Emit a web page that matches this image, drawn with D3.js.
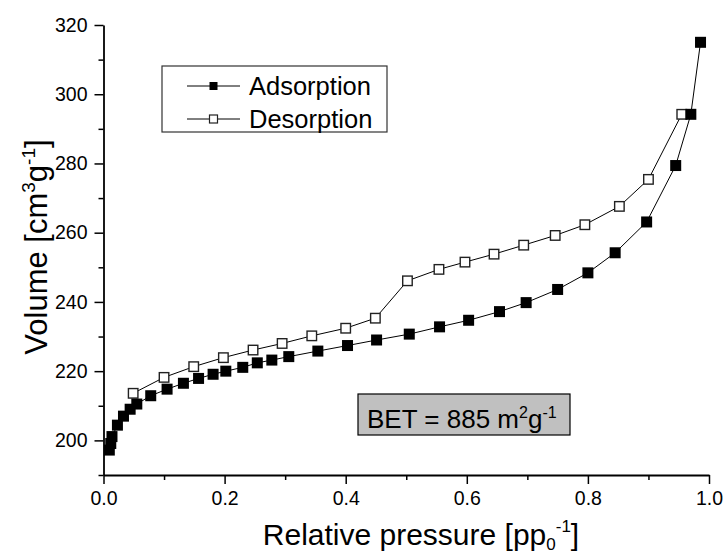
<!DOCTYPE html>
<html>
<head>
<meta charset="utf-8">
<script src="https://cdn.jsdelivr.net/npm/d3@7"></script>
<style>
  body { margin: 0; background: #fff; }
  svg text { font-family: "Liberation Sans", Arial, Helvetica, sans-serif; fill: #000; }
</style>
</head>
<body>
<svg id="chart" width="725" height="558"></svg>
<script>
// Nitrogen isotherm: relative pressure p/p0 vs adsorbed volume (cm3/g)
const adsorptionP = [0.0096, 0.012, 0.014, 0.023, 0.033, 0.044, 0.055, 0.078, 0.105, 0.132,
  0.157, 0.181, 0.202, 0.230, 0.254, 0.278, 0.306, 0.354, 0.403, 0.451, 0.505, 0.555,
  0.603, 0.654, 0.698, 0.750, 0.800, 0.845, 0.897, 0.945, 0.970, 0.986];
const adsorptionV = [197.2, 199.1, 201.1, 204.4, 207.0, 209.0, 210.5, 212.9, 214.8, 216.5,
  217.9, 219.1, 220.0, 221.1, 222.4, 223.2, 224.2, 225.8, 227.4, 229.0, 230.7, 232.8,
  234.7, 237.2, 239.8, 243.6, 248.4, 254.2, 263.1, 279.4, 294.2, 315.0];

const desorptionP = [0.049, 0.100, 0.149, 0.198, 0.247, 0.295, 0.344, 0.400, 0.449, 0.502,
  0.554, 0.597, 0.645, 0.694, 0.746, 0.795, 0.852, 0.900, 0.955];
const desorptionV = [213.6, 218.2, 221.3, 223.9, 226.1, 228.0, 230.2, 232.4, 235.3, 246.1,
  249.4, 251.5, 253.8, 256.4, 259.2, 262.3, 267.6, 275.4, 294.2];

const xTicks = [0, 0.2, 0.4, 0.6, 0.8, 1.0];
const xMinorTicks = [0.1, 0.3, 0.5, 0.7, 0.9];
const yTicks = [200, 220, 240, 260, 280, 300, 320];
const yMinorTicks = [190, 210, 230, 250, 270, 290, 310];

const seriesNames = ["Adsorption", "Desorption"];
const betValue = 885;

const svg = d3.select("#chart");
const x = d3.scaleLinear().domain([0, 1]).range([103.5, 709]);
const y = d3.scaleLinear().domain([190, 320]).range([475, 25]);

const axisColor = "#000";

// minor ticks first (no labels)
svg.append("g").attr("transform", `translate(0,${y(190)})`)
  .call(d3.axisBottom(x).tickValues(xMinorTicks).tickSize(5).tickSizeOuter(0).tickFormat(""))
  .call(g => g.select(".domain").remove());
svg.append("g").attr("transform", `translate(${x(0)},0)`)
  .call(d3.axisLeft(y).tickValues(yMinorTicks).tickSize(5).tickSizeOuter(0).tickFormat(""))
  .call(g => g.select(".domain").remove());

const xAxis = svg.append("g").attr("transform", `translate(0,${y(190)})`)
  .call(d3.axisBottom(x).tickValues(xTicks).tickSize(9).tickSizeOuter(0).tickPadding(7)
    .tickFormat(d3.format(".1f")));
const yAxis = svg.append("g").attr("transform", `translate(${x(0)},0)`)
  .call(d3.axisLeft(y).tickValues(yTicks).tickSize(9).tickSizeOuter(0).tickPadding(7)
    .tickFormat(d3.format("d")));

svg.selectAll(".tick line").attr("stroke", axisColor).attr("stroke-width", 1.5);
svg.selectAll(".domain").attr("stroke", axisColor).attr("stroke-width", 1.8);
[xAxis, yAxis].forEach(a => a.selectAll(".tick text")
  .style("font-family", '"Liberation Sans", Arial, sans-serif')
  .style("font-size", "19.5px").attr("fill", "#000"));

// axis titles
const xTitle = svg.append("text")
  .attr("x", 421).attr("y", 545)
  .attr("text-anchor", "middle").style("font-size", "30px");
xTitle.append("tspan").text("Relative pressure [pp");
xTitle.append("tspan").attr("dy", 5).style("font-size", "17px").text("0");
xTitle.append("tspan").attr("dy", -18).style("font-size", "17px").text("-1");
xTitle.append("tspan").attr("dy", 13).text("]");

const yTitle = svg.append("text")
  .attr("transform", `translate(47,247) rotate(-90)`)
  .attr("text-anchor", "middle").style("font-size", "31px");
yTitle.append("tspan").text("Volume [cm");
yTitle.append("tspan").attr("dy", -12).style("font-size", "19px").text("3");
yTitle.append("tspan").attr("dy", 12).text("g");
yTitle.append("tspan").attr("dy", -12).style("font-size", "19px").text("-1");
yTitle.append("tspan").attr("dy", 12).text("]");

const adsorption = adsorptionP.map((p, i) => ({ p, v: adsorptionV[i] }));
const desorption = desorptionP.map((p, i) => ({ p, v: desorptionV[i] }));

const line = d3.line().x(d => x(d.p)).y(d => y(d.v));

const plot = svg.append("g");
plot.append("path").datum(desorption).attr("d", line)
  .attr("fill", "none").attr("stroke", "#000").attr("stroke-width", 1);
plot.append("path").datum(adsorption).attr("d", line)
  .attr("fill", "none").attr("stroke", "#000").attr("stroke-width", 1);

const openSize = 9.5, filledSize = 11;
plot.selectAll("rect.des").data(desorption).enter().append("rect")
  .attr("class", "des")
  .attr("x", d => x(d.p) - openSize / 2).attr("y", d => y(d.v) - openSize / 2)
  .attr("width", openSize).attr("height", openSize)
  .attr("fill", "#fff").attr("stroke", "#222").attr("stroke-width", 1.4);
plot.selectAll("rect.ads").data(adsorption).enter().append("rect")
  .attr("class", "ads")
  .attr("x", d => x(d.p) - filledSize / 2).attr("y", d => y(d.v) - filledSize / 2)
  .attr("width", filledSize).attr("height", filledSize)
  .attr("fill", "#000");

// legend
const legend = svg.append("g");
legend.append("rect").attr("x", 162).attr("y", 66).attr("width", 225).attr("height", 66)
  .attr("fill", "#fff").attr("stroke", "#333").attr("stroke-width", 1.2);
const rows = [{ name: seriesNames[0], cy: 86, filled: true }, { name: seriesNames[1], cy: 119, filled: false }];
rows.forEach(r => {
  legend.append("line").attr("x1", 187).attr("x2", 240).attr("y1", r.cy).attr("y2", r.cy)
    .attr("stroke", "#000").attr("stroke-width", 1);
  legend.append("rect").attr("x", 213.5 - 4).attr("y", r.cy - 4).attr("width", 8).attr("height", 8)
    .attr("fill", r.filled ? "#000" : "#fff").attr("stroke", r.filled ? "none" : "#222").attr("stroke-width", 1.2);
  legend.append("text").attr("x", 249).attr("y", r.cy + 9).style("font-size", "25.5px").text(r.name);
});

// BET annotation
const bet = svg.append("g");
bet.append("rect").attr("x", 358).attr("y", 394).attr("width", 212).attr("height", 41)
  .attr("fill", "#c0c0c0").attr("stroke", "#000").attr("stroke-width", 1.2);
const betText = bet.append("text").attr("x", 367).attr("y", 428).style("font-size", "26px");
betText.append("tspan").text(`BET = ${betValue} m`);
betText.append("tspan").attr("dy", -10).style("font-size", "16px").text("2");
betText.append("tspan").attr("dy", 10).text("g");
betText.append("tspan").attr("dy", -10).style("font-size", "16px").text("-1");
</script>
</body>
</html>
